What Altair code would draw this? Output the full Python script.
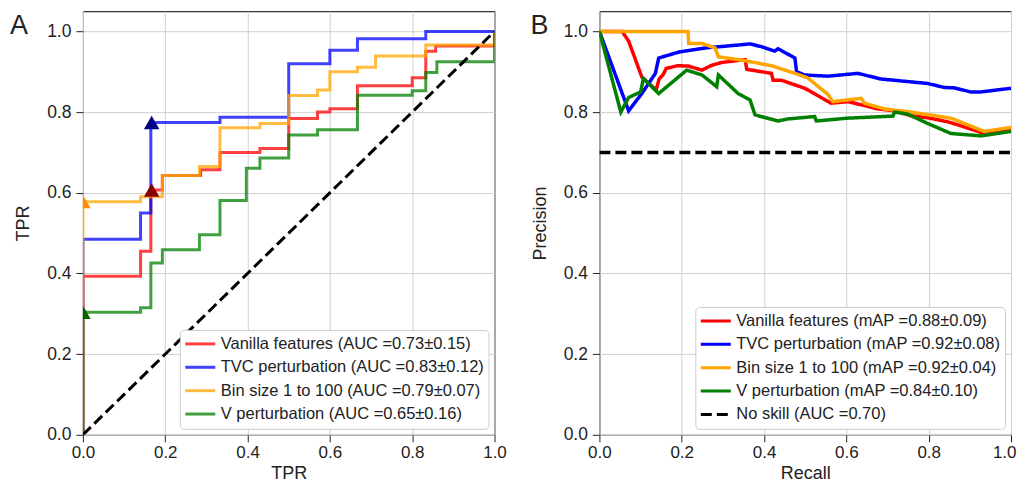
import altair as alt
import pandas as pd

FONT = "Liberation Sans"

# ---------------- Panel A: ROC ----------------
roc_labels = [
    "Vanilla features (AUC =0.73±0.15)",
    "TVC perturbation (AUC =0.83±0.12)",
    "Bin size 1 to 100 (AUC =0.79±0.07)",
    "V perturbation (AUC =0.65±0.16)",
]
roc_colors = ["#ff0000", "#0000ff", "#ffa500", "#008000"]

roc_red_x = [0, 0, 0.14, 0.165, 0.193, 0.286, 0.333, 0.43, 0.5, 0.57, 0.6, 0.667, 0.8, 0.833, 0.857, 1.0, 1.0]
roc_red_y = [0, 0.393, 0.455, 0.607, 0.643, 0.657, 0.70, 0.71, 0.784, 0.80, 0.808, 0.865, 0.885, 0.951, 0.964, 0.964, 1.0]

roc_blue_x = [0, 0, 0.14, 0.165, 0.333, 0.5, 0.6, 0.667, 0.833, 1.0]
roc_blue_y = [0, 0.485, 0.55, 0.774, 0.787, 0.92, 0.953, 0.982, 1.0, 1.0]

roc_orange_x = [0, 0, 0.14, 0.193, 0.283, 0.333, 0.43, 0.5, 0.57, 0.6, 0.667, 0.711, 0.833, 1.0, 1.0]
roc_orange_y = [0, 0.578, 0.59, 0.643, 0.665, 0.761, 0.772, 0.841, 0.855, 0.90, 0.911, 0.939, 0.966, 0.966, 1.0]

roc_green_x = [0, 0, 0.14, 0.165, 0.193, 0.283, 0.333, 0.397, 0.43, 0.5, 0.57, 0.667, 0.8, 0.833, 0.86, 1.0, 1.0]
roc_green_y = [0, 0.304, 0.315, 0.426, 0.459, 0.496, 0.581, 0.661, 0.686, 0.743, 0.756, 0.842, 0.853, 0.898, 0.925, 0.925, 1.0]

diag_x = [0, 1]
diag_y = [0, 1]

marker_x = [0.167, 0.167, 0.0, 0.0]
marker_y = [0.607, 0.774, 0.578, 0.304]
marker_colors = ["#8b0000", "#000080", "#ff8c00", "#006400"]

# ---------------- Panel B: PR ----------------
pr_labels = [
    "Vanilla features (mAP =0.88±0.09)",
    "TVC perturbation (mAP =0.92±0.08)",
    "Bin size 1 to 100 (mAP =0.92±0.04)",
    "V perturbation (mAP =0.84±0.10)",
    "No skill (AUC =0.70)",
]
pr_colors = ["#ff0000", "#0000ff", "#ffa500", "#008000", "#000000"]

pr_red_x = [0, 0.055, 0.071, 0.103, 0.138, 0.145, 0.155, 0.162, 0.19, 0.216, 0.249, 0.273, 0.297, 0.329, 0.354, 0.358,
            0.418, 0.422, 0.442, 0.499, 0.563, 0.604, 0.636, 0.676, 0.717, 0.757, 0.797, 0.846, 0.878, 0.935, 0.959, 1.0]
pr_red_y = [1.0, 1.0, 0.976, 0.887, 0.855, 0.882, 0.893, 0.908, 0.915, 0.914, 0.904, 0.916, 0.923, 0.927, 0.930, 0.906,
            0.896, 0.879, 0.879, 0.859, 0.822, 0.826, 0.818, 0.808, 0.803, 0.791, 0.786, 0.776, 0.766, 0.747, 0.75, 0.756]

pr_blue_x = [0, 0.071, 0.103, 0.136, 0.144, 0.194, 0.257, 0.313, 0.366, 0.394, 0.426, 0.434, 0.475, 0.479, 0.499,
             0.555, 0.628, 0.684, 0.797, 0.838, 0.862, 0.902, 0.927, 1.0]
pr_blue_y = [1.0, 0.803, 0.846, 0.896, 0.934, 0.949, 0.959, 0.964, 0.969, 0.962, 0.951, 0.957, 0.934, 0.90, 0.892,
             0.889, 0.896, 0.882, 0.871, 0.861, 0.86, 0.85, 0.85, 0.859]

pr_orange_x = [0, 0.215, 0.217, 0.25, 0.281, 0.289, 0.345, 0.418, 0.475, 0.506, 0.555, 0.567, 0.636, 0.644, 0.692,
               0.757, 0.854, 0.935, 1.0]
pr_orange_y = [1.0, 1.0, 0.970, 0.970, 0.959, 0.937, 0.929, 0.915, 0.896, 0.885, 0.844, 0.826, 0.834, 0.822, 0.808,
               0.80, 0.785, 0.752, 0.762]

pr_green_x = [0, 0.052, 0.071, 0.10, 0.107, 0.144, 0.212, 0.249, 0.285, 0.289, 0.337, 0.366, 0.378, 0.434, 0.458,
              0.523, 0.527, 0.604, 0.713, 0.717, 0.749, 0.797, 0.854, 0.927, 1.0]
pr_green_y = [1.0, 0.80, 0.836, 0.85, 0.883, 0.846, 0.904, 0.892, 0.863, 0.892, 0.846, 0.83, 0.793, 0.778, 0.783,
              0.789, 0.778, 0.785, 0.79, 0.80, 0.795, 0.772, 0.747, 0.741, 0.752]

noskill_x = [0, 1]
noskill_y = [0.70, 0.70]

ticks = [0, 0.2, 0.4, 0.6, 0.8, 1.0]


def long_df(series):
    rows = []
    for label, xs, ys in series:
        for i, (x, y) in enumerate(zip(xs, ys)):
            rows.append({"series": label, "x": x, "y": y, "i": i})
    return pd.DataFrame(rows)


roc_df = long_df([
    (roc_labels[0], roc_red_x, roc_red_y),
    (roc_labels[1], roc_blue_x, roc_blue_y),
    (roc_labels[2], roc_orange_x, roc_orange_y),
    (roc_labels[3], roc_green_x, roc_green_y),
])
pr_df = long_df([
    (pr_labels[0], pr_red_x, pr_red_y),
    (pr_labels[1], pr_blue_x, pr_blue_y),
    (pr_labels[2], pr_orange_x, pr_orange_y),
    (pr_labels[3], pr_green_x, pr_green_y),
    (pr_labels[4], noskill_x, noskill_y),
])
diag_df = pd.DataFrame({"x": diag_x, "y": diag_y})
marker_df = pd.DataFrame({"x": marker_x, "y": marker_y, "mc": marker_colors})

xscale = alt.Scale(domain=[0, 1], nice=False, zero=False)
yscale = alt.Scale(domain=[0, 1.05], nice=False, zero=False)


def ax(title, **kw):
    return alt.Axis(title=title, values=ticks, format=".1f", grid=True, labelFlush=False, **kw)


leg = dict(
    orient="bottom-right", offset=6, title=None, fillColor="white", strokeColor="#cccccc",
    cornerRadius=4, padding=4, symbolType="stroke", symbolSize=900, symbolStrokeWidth=3,
    clipHeight=20, labelFontSize=16.5, labelFont=FONT, labelColor="#222222", labelLimit=0,
    rowPadding=3.4, labelOffset=4,
)

W, H = 412, 424

roc_lines = alt.Chart(roc_df).mark_line(
    strokeWidth=3, opacity=0.75, interpolate="step-after", clip=True
).encode(
    x=alt.X("x:Q", scale=xscale, axis=ax("TPR")),
    y=alt.Y("y:Q", scale=yscale, axis=ax("TPR")),
    color=alt.Color("series:N", scale=alt.Scale(domain=roc_labels, range=roc_colors),
                    legend=alt.Legend(**leg)),
    order=alt.Order("i:Q"),
)
diag = alt.Chart(diag_df).mark_line(
    color="black", strokeDash=[11, 5], strokeWidth=3, clip=True
).encode(x="x:Q", y="y:Q")
markers = alt.Chart(marker_df).mark_point(
    shape="triangle-up", filled=True, size=240, opacity=1, clip=True
).encode(x="x:Q", y="y:Q", fill=alt.Fill("mc:N", scale=None))
letter_a = alt.Chart(pd.DataFrame({"t": ["A"]})).mark_text(
    align="left", baseline="alphabetic", fontSize=27, font=FONT, color="#222222"
).encode(text="t:N", x=alt.value(-73), y=alt.value(23))

left = alt.layer(roc_lines, diag, markers, letter_a).properties(width=W, height=H)

recall_axis = ax(
    "Recall",
    labelAlign=alt.ConditionalAxisLabelAlign(
        condition={"test": "datum.value >= 1", "value": "right"}, value="center"
    ),
    labelOffset=alt.ConditionalAxisNumber(
        condition={"test": "datum.value >= 1", "value": 5}, value=0
    ),
)

pr_lines = alt.Chart(pr_df).mark_line(strokeWidth=3.5, clip=True).encode(
    x=alt.X("x:Q", scale=xscale, axis=recall_axis),
    y=alt.Y("y:Q", scale=yscale, axis=ax("Precision")),
    color=alt.Color("series:N", scale=alt.Scale(domain=pr_labels, range=pr_colors),
                    legend=alt.Legend(**leg)),
    strokeDash=alt.StrokeDash("series:N",
                              scale=alt.Scale(domain=pr_labels,
                                              range=[[1, 0], [1, 0], [1, 0], [1, 0], [11, 5]]),
                              legend=alt.Legend(**leg)),
    order=alt.Order("i:Q"),
)
letter_b = alt.Chart(pd.DataFrame({"t": ["B"]})).mark_text(
    align="left", baseline="alphabetic", fontSize=27, font=FONT, color="#222222"
).encode(text="t:N", x=alt.value(-69), y=alt.value(23))

right = alt.layer(pr_lines, letter_b).properties(width=W, height=H)

chart = alt.hconcat(left, right, spacing=105, bounds="flush").resolve_scale(
    color="independent", strokeDash="independent"
).resolve_legend(
    color="independent", strokeDash="independent"
).properties(
    padding={"left": 1, "top": 2, "right": 0, "bottom": 0}
).configure_view(
    stroke="black", strokeWidth=1
).configure_axis(
    labelFont=FONT, titleFont=FONT, labelFontSize=17.5, titleFontSize=18, titleFontWeight="normal",
    labelColor="#222222", titleColor="#222222", tickColor="#222222", tickSize=7, tickWidth=1,
    domain=False, gridColor="#d0d0d0", gridWidth=1,
).configure_axisY(labelPadding=5, titlePadding=14).configure_axisX(
    labelPadding=3, titlePadding=4, labelFontSize=17
)

chart.save("out.html", embed_options={"renderer": "svg", "actions": False})
